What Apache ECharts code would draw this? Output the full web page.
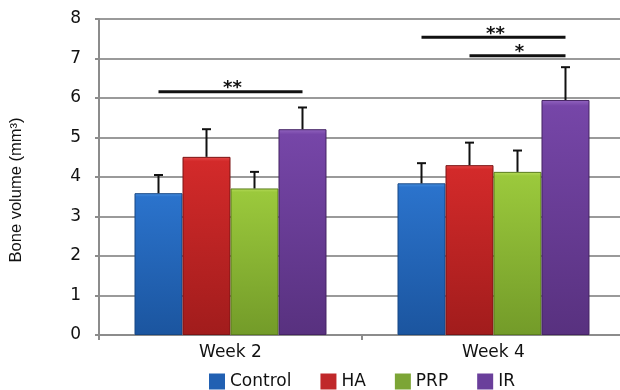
<!DOCTYPE html>
<html>
<head>
<meta charset="utf-8">
<script src="https://cdn.jsdelivr.net/npm/echarts@6/dist/echarts.min.js"></script>
<style>
  html, body { margin: 0; padding: 0; background: #fff; }
  #chart { width: 620px; height: 390px; }
</style>
</head>
<body>
<div id="chart"></div>
<script>
// Bone volume (mm³) per treatment group, weeks 2 and 4
const categories = ['Week 2', 'Week 4'];
const groups = ['Control', 'HA', 'PRP', 'IR'];

const controlMean = [3.59, 3.84];
const haMean      = [4.51, 4.30];
const prpMean     = [3.71, 4.13];
const irMean      = [5.21, 5.95];

const controlSD = [0.46, 0.51];
const haSD      = [0.70, 0.57];
const prpSD     = [0.42, 0.54];
const irSD      = [0.55, 0.83];

const yTicks = [0, 1, 2, 3, 4, 5, 6, 7, 8];

// significance brackets: week index, from group, to group, bracket height, stars
const sigWeek  = [0, 1, 1];
const sigFrom  = [0, 0, 1];
const sigTo    = [3, 3, 3];
const sigLevel = [6.16, 7.54, 7.07];
const sigText  = ['**', '**', '*'];

const means = [controlMean, haMean, prpMean, irMean];
const sds = [controlSD, haSD, prpSD, irSD];

const CAT_GAP = 0.27;
const FONT = '"DejaVu Sans", sans-serif';

const palette = [
  { light: '#4a92e2', base: '#2b73cc', dark: '#1b559f', edge: '#164784', flat: '#2160b2' },
  { light: '#e64a4a', base: '#d32a2a', dark: '#a11c1c', edge: '#7c1414', flat: '#c0282a' },
  { light: '#b8dc5c', base: '#9bc93c', dark: '#739b29', edge: '#5a7d1d', flat: '#7ca536' },
  { light: '#9264c0', base: '#7646a8', dark: '#58317f', edge: '#452464', flat: '#6a3f9b' }
];

function barFill(p) {
  return new echarts.graphic.LinearGradient(0, 0, 0, 1, [
    { offset: 0, color: p.light },
    { offset: 0.025, color: p.base },
    { offset: 1, color: p.dark }
  ]);
}

function slotX(api, cat, g) {
  const center = api.coord([cat, 0])[0];
  const bw = api.size([1, 0])[0] * (1 - CAT_GAP) / groups.length;
  return center + (g - (groups.length - 1) / 2) * bw;
}

const barSeries = groups.map((name, g) => ({
  name: name,
  type: 'bar',
  data: means[g],
  barGap: '0%',
  barCategoryGap: (CAT_GAP * 100) + '%',
  itemStyle: {
    color: barFill(palette[g]),
    borderColor: palette[g].edge,
    borderWidth: 1
  },
  emphasis: { disabled: true },
  z: 2
}));

const errorData = [];
groups.forEach((name, g) => {
  categories.forEach((c, i) => {
    errorData.push([i, g, means[g][i], means[g][i] + sds[g][i]]);
  });
});

const errorSeries = {
  type: 'custom',
  name: 'sd',
  data: errorData,
  encode: { x: 0, y: [2, 3] },
  z: 5,
  silent: true,
  clip: false,
  renderItem: function (params, api) {
    const cat = api.value(0), g = api.value(1);
    const x = slotX(api, cat, g);
    const y0 = api.coord([cat, api.value(2)])[1];
    const y1 = api.coord([cat, api.value(3)])[1];
    const style = { stroke: '#111', lineWidth: 2 };
    return {
      type: 'group',
      children: [
        { type: 'line', shape: { x1: x, y1: y0, x2: x, y2: y1 }, style: style },
        { type: 'line', shape: { x1: x - 4.5, y1: y1, x2: x + 4.5, y2: y1 }, style: style }
      ]
    };
  }
};

const sigData = sigWeek.map((w, k) => [w, sigFrom[k], sigTo[k], sigLevel[k], sigText[k]]);

const sigSeries = {
  type: 'custom',
  name: 'sig',
  data: sigData,
  encode: { x: 0, y: 3 },
  z: 6,
  silent: true,
  clip: false,
  renderItem: function (params, api) {
    const cat = api.value(0);
    const xa = slotX(api, cat, api.value(1));
    const xb = slotX(api, cat, api.value(2));
    const y = api.coord([cat, api.value(3)])[1];
    return {
      type: 'group',
      children: [
        { type: 'line', shape: { x1: xa, y1: y, x2: xb, y2: y }, style: { stroke: '#111', lineWidth: 3 } },
        {
          type: 'text',
          x: (xa + xb) / 2 + 2,
          y: y - 3,
          style: {
            text: sigData[params.dataIndex][4],
            fill: '#111',
            font: 'bold 18px ' + FONT,
            textAlign: 'center',
            textVerticalAlign: 'middle'
          }
        }
      ]
    };
  }
};

const chart = echarts.init(document.getElementById('chart'), null, { renderer: 'canvas' });

chart.setOption({
  animation: false,
  backgroundColor: '#fff',
  grid: { left: 99, width: 526, top: 19, height: 316, containLabel: false, outerBoundsMode: 'none' },
  legend: {
    data: groups.map((name, g) => ({ name: name, itemStyle: { color: palette[g].flat, borderWidth: 0 } })),
    left: 204,
    top: 368,
    icon: 'rect',
    itemWidth: 16,
    itemHeight: 16,
    itemGap: 29,
    textStyle: { fontFamily: FONT, fontSize: 17, color: '#111' },
    selectedMode: false
  },
  graphic: [{
    type: 'text',
    x: 16,
    y: 190,
    rotation: Math.PI / 2,
    style: {
      text: 'Bone volume (mm³)',
      font: '16.5px "Liberation Sans", Arial, sans-serif',
      fill: '#111',
      textAlign: 'center',
      textVerticalAlign: 'middle'
    }
  }],
  xAxis: {
    type: 'category',
    data: categories,
    axisLine: { lineStyle: { color: '#8c8c8c', width: 2 } },
    axisTick: { show: true, length: 5, lineStyle: { color: '#8c8c8c', width: 2 } },
    axisLabel: { fontFamily: FONT, fontSize: 17, color: '#111', margin: 9 },
    splitLine: { show: false }
  },
  yAxis: {
    type: 'value',
    min: yTicks[0],
    max: yTicks[yTicks.length - 1],
    interval: 1,
    axisLine: { show: true, lineStyle: { color: '#8c8c8c', width: 2 } },
    axisTick: { show: true, length: 4, lineStyle: { color: '#8c8c8c', width: 2 } },
    axisLabel: { fontFamily: FONT, fontSize: 17, color: '#111', margin: 18 },
    splitLine: { show: true, lineStyle: { color: '#9a9a9a', width: 2 } }
  },
  series: barSeries.concat([errorSeries, sigSeries])
});
</script>
</body>
</html>
